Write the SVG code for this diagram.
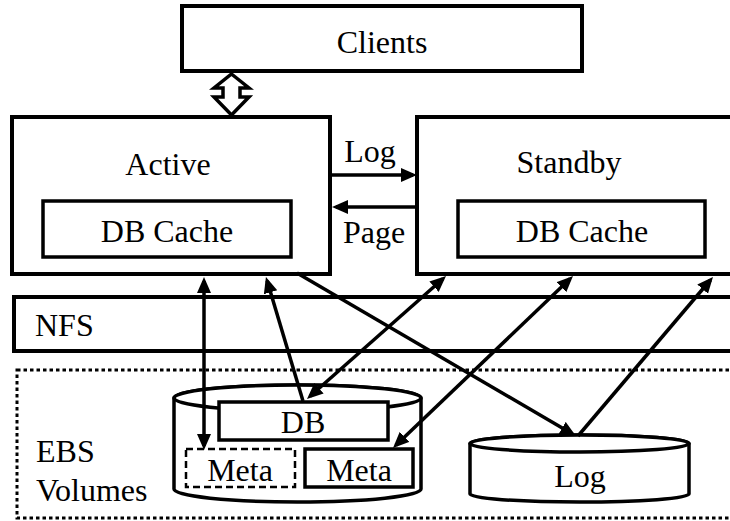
<svg xmlns="http://www.w3.org/2000/svg" width="730" height="521" viewBox="0 0 730 521">
<style>
  .box { fill: #fff; stroke: #000; stroke-width: 4; }
  .inner { fill: #fff; stroke: #000; stroke-width: 3.5; }
  .dash { fill: #fff; stroke: #000; stroke-width: 2.5; stroke-dasharray: 7 4; }
  .dots { fill: none; stroke: #000; stroke-width: 3; stroke-dasharray: 3.5 3; }
  .cyl { fill: #fff; stroke: #000; stroke-width: 3.5; }
  .t { font-family: 'Liberation Serif', 'Times New Roman', serif; font-size: 32px; fill: #000; }
  .c { text-anchor: middle; }
  .ln { stroke: #000; stroke-width: 3.5; fill: none; }
</style>
<defs>
  <marker id="ah" markerUnits="userSpaceOnUse" markerWidth="18" markerHeight="16" refX="12" refY="7" orient="auto-start-reverse">
    <path d="M0,0 L16,7 L0,14 Z" fill="#000"/>
  </marker>
</defs>
<rect width="730" height="521" fill="#fff"/>

<g id="clients">
  <rect class="box" x="182" y="6" width="400" height="65"/>
  <text class="t c" x="382" y="53">Clients</text>
</g>

<g id="active">
  <rect class="box" x="12" y="117" width="318" height="157"/>
  <text class="t c" x="168" y="175">Active</text>
  <rect class="inner" x="43" y="201" width="248" height="56"/>
  <text class="t c" x="167" y="242">DB Cache</text>
</g>

<g id="standby">
  <rect class="box" x="417" y="117" width="330" height="157"/>
  <text class="t c" x="569" y="173">Standby</text>
  <rect class="inner" x="458" y="201" width="247" height="56"/>
  <text class="t c" x="582" y="242">DB Cache</text>
</g>

<g id="nfs">
  <rect class="box" x="14" y="297" width="740" height="54"/>
  <text class="t" x="35" y="336">NFS</text>
</g>

<g id="ebs">
  <rect class="dots" x="17" y="370" width="740" height="148"/>
  <text class="t" x="36" y="462">EBS</text>
  <text class="t" x="36" y="501">Volumes</text>
</g>

<g id="db-volume">
  <path class="cyl" d="M174,398 L174,489 A123.5,13 0 0 0 421,489 L421,398 A123.5,13 0 0 0 174,398 Z"/>
  <ellipse class="cyl" cx="297.5" cy="398" rx="123.5" ry="13"/>
  <g id="db">
    <rect class="inner" x="219" y="402" width="169" height="38"/>
    <text class="t c" x="303" y="433">DB</text>
  </g>
  <g id="meta-standby">
    <rect class="dash" x="186" y="449" width="109" height="38"/>
    <text class="t c" x="240" y="481">Meta</text>
  </g>
  <g id="meta-active">
    <rect class="inner" x="305" y="449" width="108" height="38"/>
    <text class="t c" x="359" y="481">Meta</text>
  </g>
</g>

<g id="log-volume">
  <path class="cyl" d="M470,443.5 L470,494 A109.5,8 0 0 0 689,494 L689,443.5 A109.5,8.5 0 0 0 470,443.5 Z"/>
  <ellipse class="cyl" cx="579.5" cy="443.5" rx="109.5" ry="8.5"/>
  <text class="t c" x="580" y="487">Log</text>
</g>

<g id="connectors">
  <polygon points="231.5,74 249,88 240,88 240,97 249,97 231.5,115 214,97 223,97 223,88 214,88" fill="#fff" stroke="#000" stroke-width="3.5" stroke-linejoin="miter"/>
  <line class="ln" x1="330" y1="175" x2="413" y2="175" marker-end="url(#ah)"/>
  <text class="t c" x="370" y="162">Log</text>
  <line class="ln" x1="417" y1="207" x2="336" y2="207" marker-end="url(#ah)"/>
  <text class="t c" x="374" y="243">Page</text>
  <line class="ln" x1="204" y1="281" x2="204" y2="446" marker-start="url(#ah)" marker-end="url(#ah)"/>
  <line class="ln" x1="303" y1="401" x2="267.1" y2="280.8" marker-end="url(#ah)"/>
  <line class="ln" x1="443" y1="278.7" x2="310" y2="396.3" marker-start="url(#ah)" marker-end="url(#ah)"/>
  <line class="ln" x1="297" y1="273" x2="572.5" y2="434" marker-end="url(#ah)"/>
  <line class="ln" x1="570.1" y1="278.8" x2="395.9" y2="445.2" marker-start="url(#ah)" marker-end="url(#ah)"/>
  <line class="ln" x1="578" y1="436" x2="710.4" y2="280" marker-end="url(#ah)"/>
</g>
</svg>
